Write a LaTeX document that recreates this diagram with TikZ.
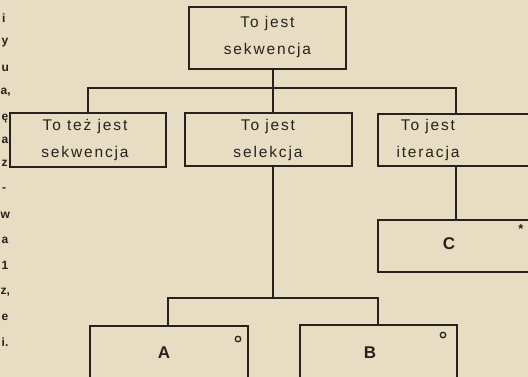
\documentclass[tikz,border=0pt]{standalone}
\usepackage{fontspec}
\setmainfont{Liberation Sans}
\newfontfamily\boxfont[LetterSpace=12]{Liberation Sans}
\newfontfamily\margfont{Liberation Sans}
\definecolor{paper}{RGB}{232,221,194}
\definecolor{ink}{RGB}{38,34,30}
\tikzset{
  box/.style={draw=ink, line width=1.6pt, rectangle, inner sep=0pt},
  lbl/.style={text=ink, font=\boxfont\fontsize{15.5}{27}\selectfont, align=center, inner sep=0pt},
  big/.style={text=ink, font=\bfseries\fontsize{17}{20}\selectfont, inner sep=0pt},
  wire/.style={draw=ink, line width=1.5pt},
  marg/.style={text=ink, font=\margfont\bfseries\fontsize{12}{13}\selectfont, anchor=west, inner sep=0pt},
  ring/.style={draw=ink, line width=1.3pt, circle, minimum size=5.5pt, inner sep=0pt}
}
\begin{document}
\begin{tikzpicture}[x=1pt, y=-1pt]
  \fill[paper] (0,0) rectangle (528,377);
  \useasboundingbox (0,0) rectangle (528,377);
  \clip (0,0) rectangle (528,377);

  % boxes
  \node[box, minimum width=157pt, minimum height=62pt] (top) at (267.5,38) {};
  \node[lbl] (topL) at (267.5,37) {To jest\\sekwencja};
  \node[box, minimum width=156pt, minimum height=54pt] (seq) at (88,140) {};
  \node[lbl] (seqL) at (85,139.5) {To też jest\\sekwencja};
  \node[box, minimum width=167pt, minimum height=53pt] (sel) at (268.5,139.5) {};
  \node[lbl] (selL) at (268,139.5) {To jest\\selekcja};
  \node[box, minimum width=170pt, minimum height=52pt, anchor=north west] (it) at (377,113) {};
  \node[lbl] (itL) at (428,139.5) {To jest\\iteracja};
  \node[box, minimum width=170pt, minimum height=52pt, anchor=north west] (c) at (377,219) {};
  \node[big] (cL) at (449,244) {C};
  \node[text=ink, font=\bfseries\fontsize{13}{13}\selectfont, inner sep=0pt] (star) at (521,229) {*};
  \node[box, minimum width=158pt, minimum height=80pt, anchor=north west] (a) at (89,325) {};
  \node[big] (aL) at (164,353) {A};
  \node[ring] (ao) at (238,339) {};
  \node[box, minimum width=157pt, minimum height=80pt, anchor=north west] (b) at (299,324) {};
  \node[big] (bL) at (370,353) {B};
  \node[ring] (bo) at (443,335) {};

  % junction points
  \coordinate (m1) at (273,88);
  \coordinate (l1) at (88,88);
  \coordinate (r1) at (456,88);
  \coordinate (m2) at (273,298);
  \coordinate (l2) at (168,298);
  \coordinate (r2) at (378,298);

  % connectors
  \draw[wire] (m1 |- top.south) -- (m1 |- sel.north);
  \draw[wire] (l1 |- seq.north) -- (l1) -- (r1) -- (r1 |- it.north);
  \draw[wire] (r1 |- it.south) -- (r1 |- c.north);
  \draw[wire] (m2 |- sel.south) -- (m2);
  \draw[wire] (l2 |- a.north) -- (l2) -- (r2) -- (r2 |- b.north);

  % line ends of the neighbouring text column
  \node[marg] (g1) at (2,18) {i};
  \node[marg] (g2) at (1.5,43) {y};
  \node[marg] (g3) at (1.5,68) {u};
  \node[marg] (g4) at (0.5,92) {a,};
  \node[marg] (g5) at (1.5,118) {ę};
  \node[marg] (g6) at (1.5,140) {a};
  \node[marg] (g7) at (1.5,163) {z};
  \node[marg] (g8) at (2,190) {-};
  \node[marg] (g9) at (0.5,215) {w};
  \node[marg] (g10) at (1.5,240) {a};
  \node[marg] (g11) at (1.5,265) {1};
  \node[marg] (g12) at (0.5,292) {z,};
  \node[marg] (g13) at (1.5,317) {e};
  \node[marg] (g14) at (1.5,342) {i.};
\end{tikzpicture}
\end{document}
